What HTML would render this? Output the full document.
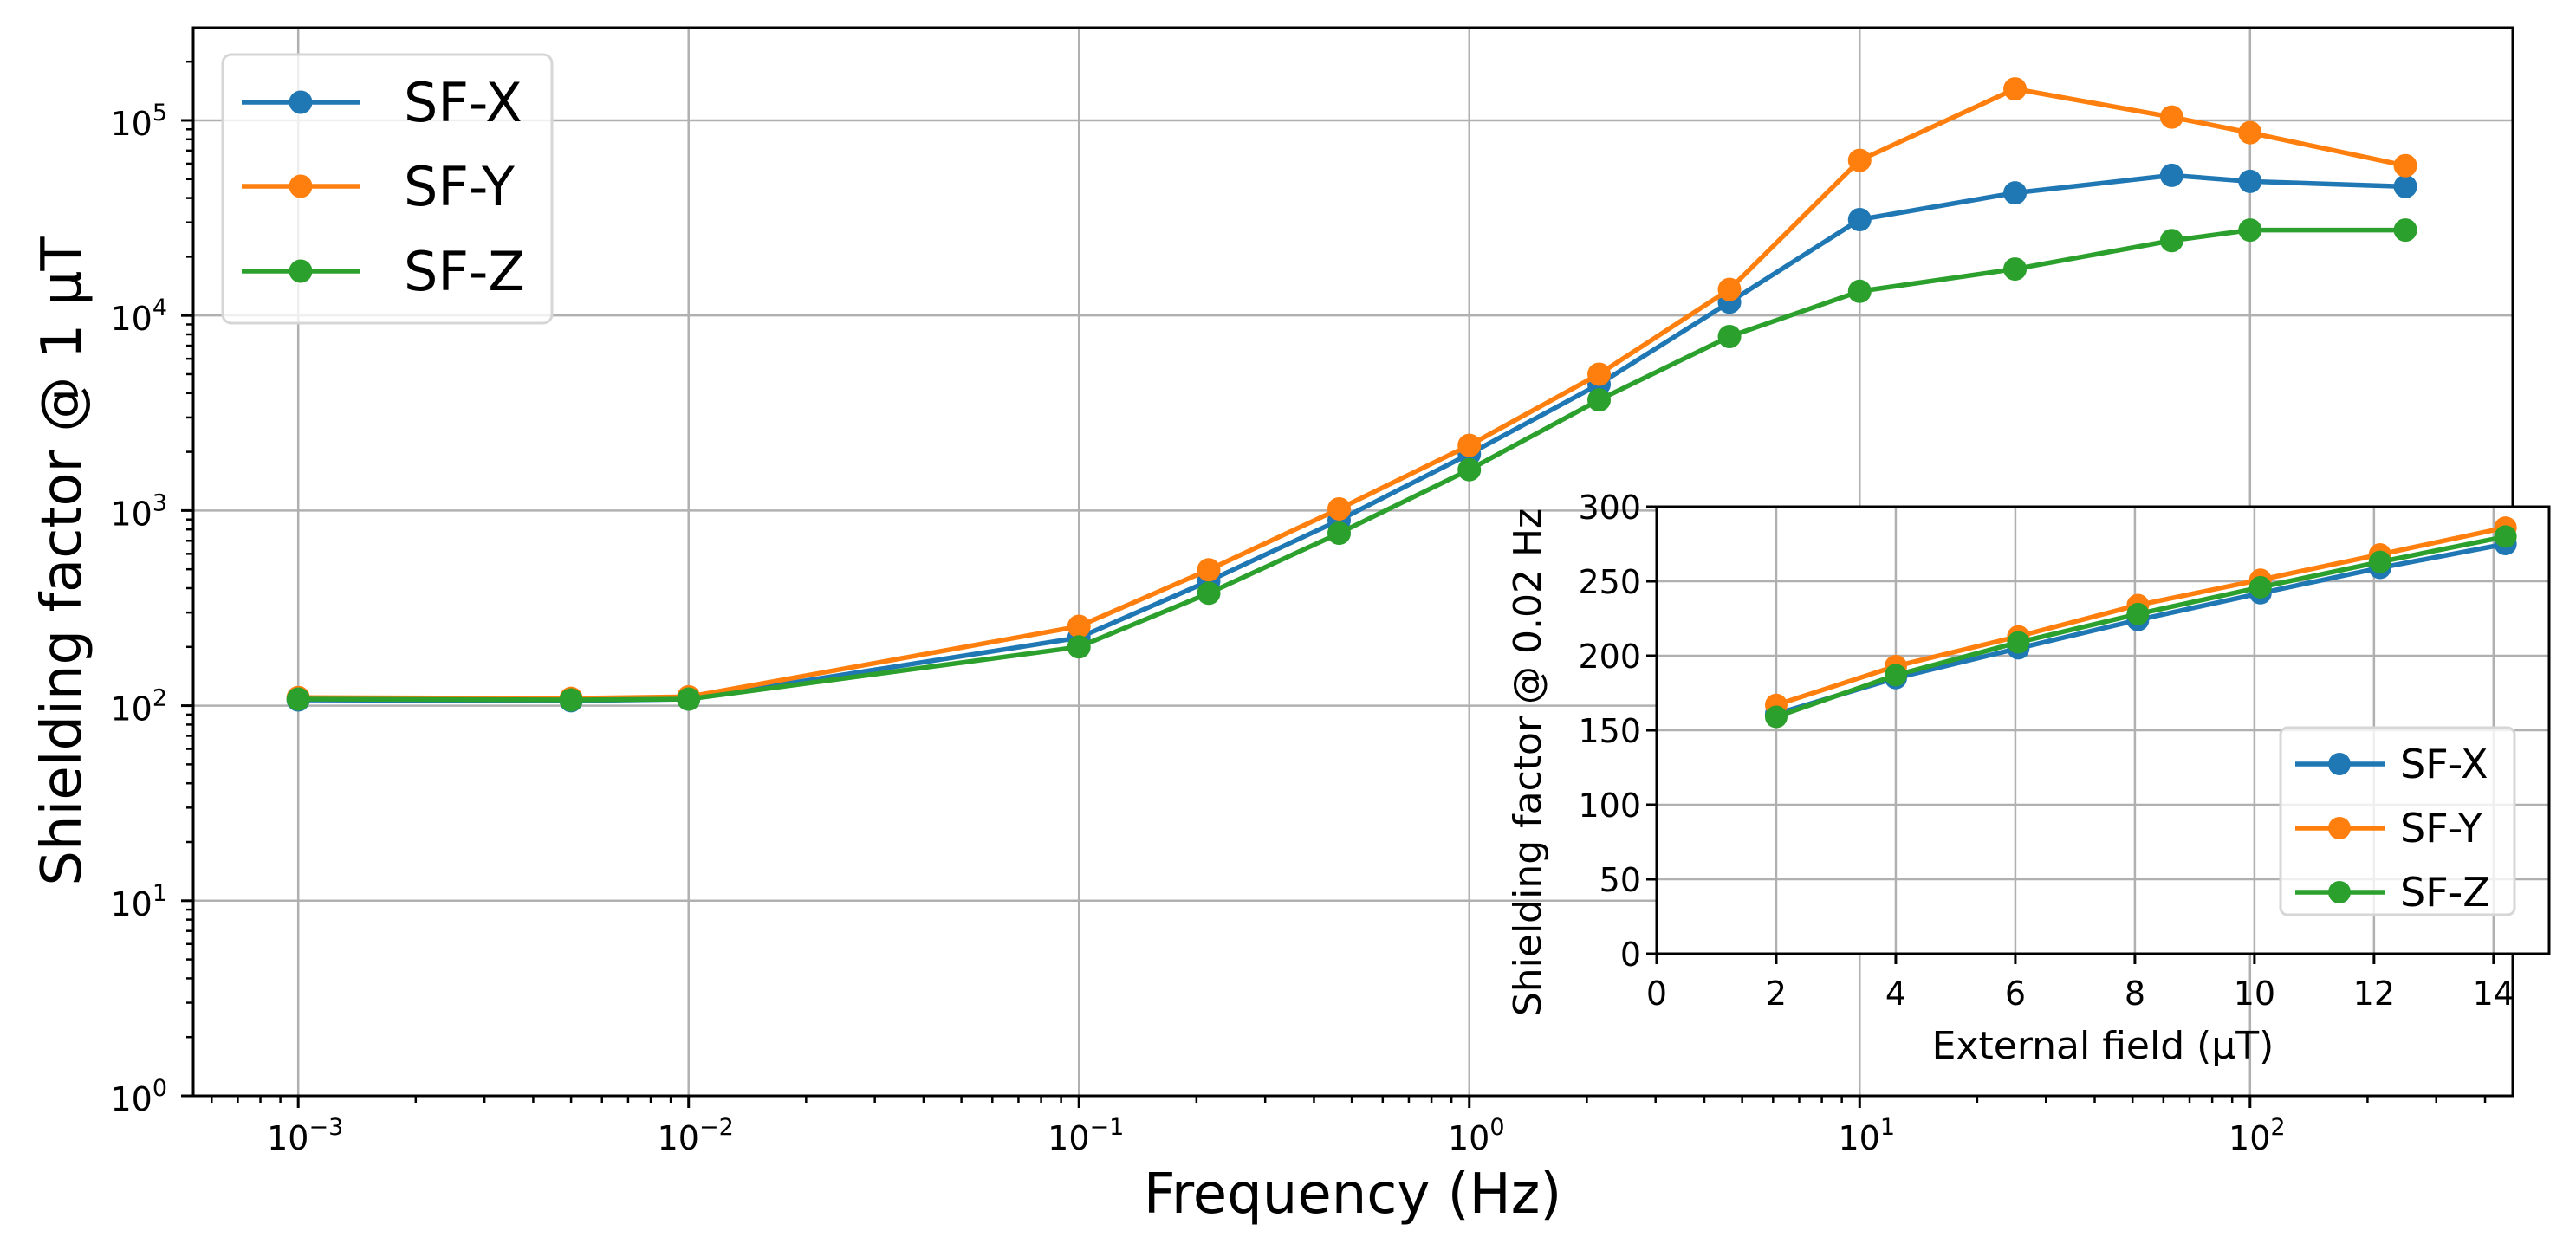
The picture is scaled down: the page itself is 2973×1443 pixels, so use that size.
<!DOCTYPE html>
<html><head><meta charset="utf-8"><style>
html,body{margin:0;padding:0;background:#fff;}
svg{display:block;font-family:"DejaVu Sans","Liberation Sans",sans-serif;}
</style></head><body>
<svg id="chart" width="2973" height="1443" viewBox="0 0 2973 1443" xmlns="http://www.w3.org/2000/svg">
<rect width="2973" height="1443" fill="#fff"/>
<g id="main"></g>
<g id="inset"></g>
</svg>
<script>
// ---- main chart data ----
const freqs = [0.001, 0.005, 0.01, 0.1, 0.215, 0.464, 1, 2.15, 4.64, 10, 25, 63, 100, 250];
const sfX = [107, 106, 108, 223, 435, 892, 1950, 4440, 11700, 31000, 42500, 52300, 48700, 45800];
const sfY = [110, 109, 111, 255, 497, 1020, 2160, 5000, 13600, 62400, 145000, 104000, 86500, 58600];
const sfZ = [108, 107, 108, 200, 377, 765, 1620, 3690, 7800, 13300, 17300, 24200, 27400, 27400];
const mainXTicks = [-3, -2, -1, 0, 1, 2];
const mainYTicks = [0, 1, 2, 3, 4, 5];
// ---- inset data ----
const fields = [2, 4, 6.05, 8.05, 10.1, 12.1, 14.2];
const inX = [161, 185, 205, 224, 242, 259, 275];
const inY = [167, 193, 213, 234, 251, 268, 286];
const inZ = [159, 187, 209, 228, 246, 263, 280];
const insetXTicks = [0, 2, 4, 6, 8, 10, 12, 14];
const insetYTicks = [0, 50, 100, 150, 200, 250, 300];
const seriesNames = ["SF-X", "SF-Y", "SF-Z"];
const colors = ["#1f77b4", "#ff7f0e", "#2ca02c"];

const NS = "http://www.w3.org/2000/svg";
function mk(parent, tag, attrs, text) {
  const e = document.createElementNS(NS, tag);
  for (const k in attrs) e.setAttribute(k, attrs[k]);
  if (text !== undefined) e.textContent = text;
  parent.appendChild(e);
  return e;
}

// main axes geometry
const M = {l: 223, r: 2900, t: 32, b: 1265};
const xLogMin = -3.269, xLogMax = 2.673, yLogMin = 0, yLogMax = 5.475;
const mx = v => M.l + (Math.log10(v) - xLogMin) / (xLogMax - xLogMin) * (M.r - M.l);
const my = v => M.b - (Math.log10(v) - yLogMin) / (yLogMax - yLogMin) * (M.b - M.t);

const gm = document.getElementById("main");
// grid
mainXTicks.forEach(p => {
  const x = mx(Math.pow(10, p));
  const l = mk(gm, "line", {x1: x, x2: x, y1: M.t, y2: M.b, stroke: "#b0b0b0", "stroke-width": 2.5});
  
  
});
mainYTicks.forEach(p => {
  const y = my(Math.pow(10, p));
  const l = mk(gm, "line", {x1: M.l, x2: M.r, y1: y, y2: y, stroke: "#b0b0b0", "stroke-width": 2.5});
  
  
});
// minor ticks
for (let p = -4; p <= 2; p++) for (let k = 2; k <= 9; k++) {
  const v = k * Math.pow(10, p); const x = mx(v);
  if (x < M.l || x > M.r) continue;
  const t = mk(gm, "line", {x1: x, x2: x, y1: M.b, y2: M.b + 8, stroke: "#000", "stroke-width": 2.5});
  
  
}
for (let p = 0; p <= 5; p++) for (let k = 2; k <= 9; k++) {
  const v = k * Math.pow(10, p); const y = my(v);
  if (y < M.t) continue;
  const t = mk(gm, "line", {x1: M.l - 8, x2: M.l, y1: y, y2: y, stroke: "#000", "stroke-width": 2.5});
  
  
}
// major ticks + labels
mainXTicks.forEach(p => {
  const x = mx(Math.pow(10, p));
  const t = mk(gm, "line", {x1: x, x2: x, y1: M.b, y2: M.b + 14, stroke: "#000", "stroke-width": 3});
  
  
  const tx = mk(gm, "text", {x: x + 8, y: 1327, "font-size": 38, "text-anchor": "middle"});
  
  
  mk(tx, "tspan", {}, "10");
  mk(tx, "tspan", {dy: -17, "font-size": 27}, p < 0 ? "\u2212" + (-p) : String(p));
});
mainYTicks.forEach(p => {
  const y = my(Math.pow(10, p));
  const t = mk(gm, "line", {x1: M.l - 14, x2: M.l, y1: y, y2: y, stroke: "#000", "stroke-width": 3});
  
  
  const tx = mk(gm, "text", {x: 193, y: y + 17, "font-size": 38, "text-anchor": "end"});
  
  
  mk(tx, "tspan", {}, "10");
  mk(tx, "tspan", {dy: -17, "font-size": 27}, String(p));
});
// series
[sfX, sfY, sfZ].forEach((s, i) => {
  const pts = s.map((v, j) => mx(freqs[j]) + "," + my(v)).join(" ");
  const pl = mk(gm, "polyline", {points: pts, fill: "none", stroke: colors[i], "stroke-width": 5.5, "stroke-linejoin": "round"});
  
  
  s.forEach((v, j) => {
    const c = mk(gm, "circle", {cx: mx(freqs[j]), cy: my(v), r: 13.5, fill: colors[i]});
    
    
  });
});
// spines
const sp = mk(gm, "rect", {x: M.l, y: M.t, width: M.r - M.l, height: M.b - M.t, fill: "none", stroke: "#000", "stroke-width": 3});


// labels
const xl = mk(gm, "text", {x: 1561, y: 1400, "font-size": 64, "text-anchor": "middle"}, "Frequency (Hz)");


const yl = mk(gm, "text", {x: 0, y: 0, "font-size": 64, "text-anchor": "middle", transform: "translate(93,648) rotate(-90)"}, "Shielding factor @ 1 \u00b5T");


// legend
const lg = mk(gm, "g", {});


mk(lg, "rect", {x: 257, y: 63, width: 380, height: 310, rx: 10, fill: "#fff", "fill-opacity": 0.8, stroke: "#d6d6d6", "stroke-width": 3});
[118, 215, 313].forEach((y, i) => {
  const e = mk(lg, "g", {});
  
  
  mk(e, "line", {x1: 279, x2: 415, y1: y, y2: y, stroke: colors[i], "stroke-width": 5.5});
  mk(e, "circle", {cx: 347, cy: y, r: 13.5, fill: colors[i]});
  mk(e, "text", {x: 466, y: y + 22, "font-size": 62}, seriesNames[i]);
});

// ---- inset ----
const I = {l: 1912, r: 2942, t: 585, b: 1101};
const ix = v => I.l + v / 14.93 * (I.r - I.l);
const iy = v => I.b - v / 300 * (I.b - I.t);
const gi = document.getElementById("inset");
mk(gi, "rect", {x: I.l, y: I.t, width: I.r - I.l, height: I.b - I.t, fill: "#fff"});
insetXTicks.forEach(v => {
  const x = ix(v);
  const g = mk(gi, "line", {x1: x, x2: x, y1: I.t, y2: I.b, stroke: "#b0b0b0", "stroke-width": 2.5});
  
  
  const t = mk(gi, "line", {x1: x, x2: x, y1: I.b, y2: I.b + 12, stroke: "#000", "stroke-width": 3});
  
  
  const tx = mk(gi, "text", {x: x, y: 1160, "font-size": 38, "text-anchor": "middle"}, String(v));
  
  
});
insetYTicks.forEach(v => {
  const y = iy(v);
  const g = mk(gi, "line", {x1: I.l, x2: I.r, y1: y, y2: y, stroke: "#b0b0b0", "stroke-width": 2.5});
  
  
  const t = mk(gi, "line", {x1: I.l - 12, x2: I.l, y1: y, y2: y, stroke: "#000", "stroke-width": 3});
  
  
  const tx = mk(gi, "text", {x: I.l - 18, y: y + 14, "font-size": 38, "text-anchor": "end"}, String(v));
  
  
});
[inX, inY, inZ].forEach((s, i) => {
  const pts = s.map((v, j) => ix(fields[j]) + "," + iy(v)).join(" ");
  const pl = mk(gi, "polyline", {points: pts, fill: "none", stroke: colors[i], "stroke-width": 5.5, "stroke-linejoin": "round"});
  
  
  s.forEach((v, j) => {
    const c = mk(gi, "circle", {cx: ix(fields[j]), cy: iy(v), r: 13, fill: colors[i]});
    
    
  });
});
const isp = mk(gi, "rect", {x: I.l, y: I.t, width: I.r - I.l, height: I.b - I.t, fill: "none", stroke: "#000", "stroke-width": 3});


const ixl = mk(gi, "text", {x: 2427, y: 1222, "font-size": 44, "text-anchor": "middle"}, "External field (\u00b5T)");


const iyl = mk(gi, "text", {x: 0, y: 0, "font-size": 44, "text-anchor": "middle", transform: "translate(1778,880) rotate(-90)"}, "Shielding factor @ 0.02 Hz");


const il = mk(gi, "g", {});


mk(il, "rect", {x: 2632, y: 840, width: 270, height: 216, rx: 8, fill: "#fff", "fill-opacity": 0.8, stroke: "#d6d6d6", "stroke-width": 3});
[882, 956, 1030].forEach((y, i) => {
  const e = mk(il, "g", {});
  
  
  mk(e, "line", {x1: 2649, x2: 2752, y1: y, y2: y, stroke: colors[i], "stroke-width": 5.5});
  mk(e, "circle", {cx: 2700, cy: y, r: 13, fill: colors[i]});
  mk(e, "text", {x: 2770, y: y + 16, "font-size": 46}, seriesNames[i]);
});
</script>
</body></html>
